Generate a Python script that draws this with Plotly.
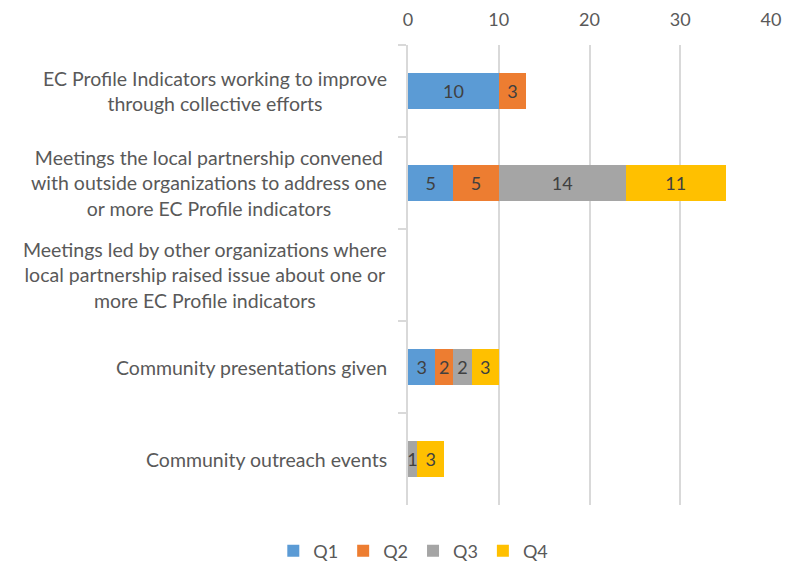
import plotly.graph_objects as go

COLORS = {
    "Q1": "#5B9BD5",
    "Q2": "#ED7D31",
    "Q3": "#A5A5A5",
    "Q4": "#FFC000",
    "grid": "#D9D9D9",
    "text": "#595959",
    "label": "#404040",
}

categories = [
    "EC Profile Indicators working to improve<br>through collective efforts",
    "Meetings the local partnership convened<br>with outside organizations to address one<br>or more EC Profile indicators",
    "Meetings led by other organizations where<br>local partnership raised issue about one or<br>more EC Profile indicators",
    "Community presentations given",
    "Community outreach events",
]
q1 = [10, 5, None, 3, None]
q2 = [3, 5, None, 2, None]
q3 = [None, 14, None, 2, 1]
q4 = [None, 11, None, 3, 3]
series = {"Q1": q1, "Q2": q2, "Q3": q3, "Q4": q4}
x_ticks = [0, 10, 20, 30, 40]

fig = go.Figure()
for name, vals in series.items():
    fig.add_trace(go.Bar(
        y=categories, x=vals, name=name, orientation="h",
        marker=dict(color=COLORS[name], line=dict(width=0)),
        text=[str(v) if v else "" for v in vals],
        textposition="inside", insidetextanchor="middle", textangle=0,
        textfont=dict(size=18, color=COLORS["label"]),
    ))

# category labels, centred lines like the original
for cat in categories:
    fig.add_annotation(
        x=0, y=cat, xref="x", yref="y", text=cat, showarrow=False,
        xanchor="right", yanchor="middle", align="center", xshift=-19,
        font=dict(size=19.5, color=COLORS["text"]),
    )

# page body has an 8px margin, so the figure is sized to fit the window
fig.update_layout(
    barmode="stack",
    bargap=0.61,
    width=787, height=557,
    plot_bgcolor="white", paper_bgcolor="white",
    font=dict(family="Lato", color=COLORS["text"], size=18),
    margin=dict(l=400, r=24, t=37, b=60, autoexpand=False),
    uniformtext=dict(minsize=18, mode="show"),
    legend=dict(
        orientation="h", traceorder="normal",
        xref="container", x=0.515, xanchor="center",
        yref="paper", y=-0.1, yanchor="middle",
        font=dict(size=18, color=COLORS["text"]),
    ),
)
fig.update_xaxes(
    side="top", range=[0, 40], tickvals=x_ticks, automargin=False,
    showgrid=True, gridcolor=COLORS["grid"], gridwidth=2,
    zeroline=False, showline=False, ticks="",
    ticklabelstandoff=14,
    tickfont=dict(size=18, color=COLORS["text"]),
)
fig.update_yaxes(
    autorange="reversed", showticklabels=False, automargin=False,
    showline=True, linecolor=COLORS["grid"], linewidth=2,
    ticks="outside", tickson="boundaries", ticklen=8,
    tickcolor=COLORS["grid"], tickwidth=2, showgrid=False,
)

fig.write_html("out.html")
